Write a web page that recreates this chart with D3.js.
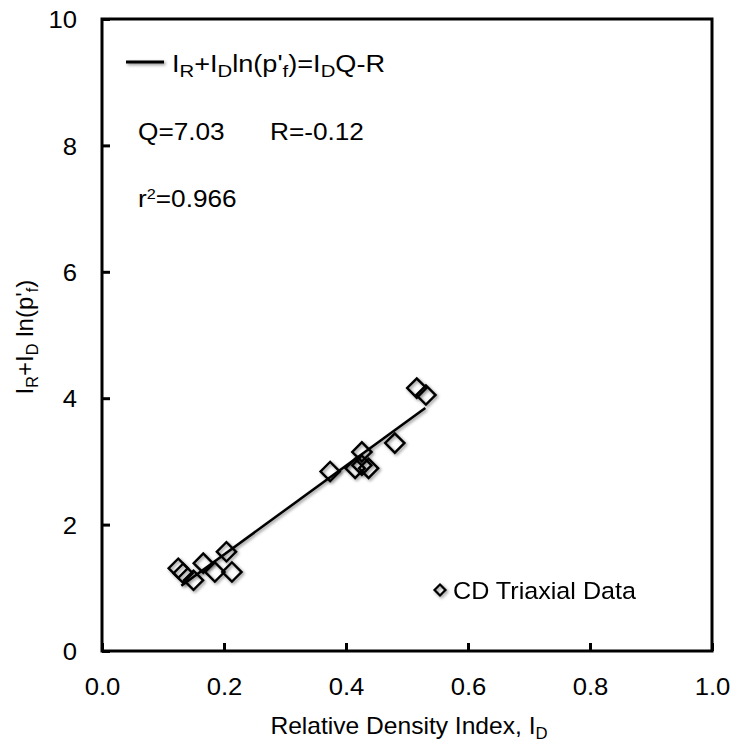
<!DOCTYPE html>
<html>
<head>
<meta charset="utf-8">
<script src="https://cdn.jsdelivr.net/npm/d3@7"></script>
<style>
  body { margin: 0; background: #fff; }
  svg { display: block; font-family: "Liberation Sans", Arial, sans-serif; }
</style>
</head>
<body>
<svg id="chart" width="738" height="748"></svg>
<script>
// CD triaxial points
const relDensity = [0.125, 0.133, 0.150, 0.166, 0.185, 0.204, 0.213, 0.374, 0.415, 0.426, 0.426, 0.437, 0.480, 0.516, 0.531]
const yValues    = [1.31, 1.23, 1.12, 1.39, 1.25, 1.57, 1.25, 2.84, 2.89, 2.94, 3.15, 2.89, 3.29, 4.16, 4.05]

// fitted line  I_R + I_D ln(p'f) = I_D Q - R
const Q = 7.03
const R = -0.12
const fitRange = [0.13, 0.53]

const xTicks = [0, 0.2, 0.4, 0.6, 0.8, 1.0]
const yTicks = [0, 2, 4, 6, 8, 10]

const svg = d3.select("#chart")
const sx = 1.07   // text looks a bit wider than tall in the original

let x = d3.scaleLinear().domain([0, 1]).range([102, 712])
let y = d3.scaleLinear().domain([0, 10]).range([651, 19])

const defs = svg.append("defs")
defs.append("filter").attr("id", "shadow")
    .attr("filterUnits", "userSpaceOnUse")
    .attr("x", 0).attr("y", 0).attr("width", 738).attr("height", 748)
  .append("feDropShadow")
    .attr("dx", 1.5).attr("dy", 1.5).attr("stdDeviation", 1.4)
    .attr("flood-color", "#000").attr("flood-opacity", 0.45)

// frame
svg.append("rect")
  .attr("x", x(0)).attr("y", y(10))
  .attr("width", x(1) - x(0)).attr("height", y(0) - y(10))
  .attr("fill", "none").attr("stroke", "#000").attr("stroke-width", 3)

let xAxis = svg.append("g")
  .attr("transform", `translate(0,${y(0)})`)
  .call(d3.axisBottom(x).tickValues(xTicks).tickFormat(d3.format(".1f"))
    .tickSizeInner(-8).tickSizeOuter(0).tickPadding(27))
let yAxis = svg.append("g")
  .attr("transform", `translate(${x(0)},0)`)
  .call(d3.axisLeft(y).tickValues(yTicks).tickFormat(d3.format("d"))
    .tickSizeInner(-8).tickSizeOuter(0).tickPadding(25))

for (const ax of [xAxis, yAxis]) {
  ax.select(".domain").remove()
  ax.selectAll(".tick line").attr("stroke", "#000").attr("stroke-width", 3)
  ax.selectAll(".tick text").attr("fill", "#000").style("font-size", "24px")
}
xAxis.selectAll(".tick text").attr("transform", `scale(${sx},1)`)
yAxis.selectAll(".tick text").attr("x", -25 / sx).attr("dy", "0.36em").attr("transform", `scale(${sx},1)`)

// fit line
svg.append("line")
  .attr("x1", x(fitRange[0])).attr("y1", y(Q * fitRange[0] - R))
  .attr("x2", x(fitRange[1])).attr("y2", y(Q * fitRange[1] - R))
  .attr("stroke", "#000").attr("stroke-width", 2.5)
  .attr("filter", "url(#shadow)")

// data markers
let diamond = d3.symbol(d3.symbolSquare, 185)
svg.append("g").attr("filter", "url(#shadow)")
.selectAll("path")
.data(relDensity.map((d, i) => [d, yValues[i]]))
.enter().append("path")
  .attr("d", diamond)
  .attr("transform", d => `translate(${x(d[0])},${y(d[1])}) rotate(45)`)
  .attr("fill", "none").attr("stroke", "#000").attr("stroke-width", 2.4)

// helper for text with sub/superscripts
let richText = (px, py, parts, size, rot, subScale = 0.68) => {
  let t = svg.append("text")
    .attr("transform", rot ? `translate(${px},${py}) rotate(-90)` : `translate(${px},${py}) scale(${sx},1)`)
    .style("font-size", size + "px").attr("fill", "#000")
  parts.forEach(p => {
    let s = t.append("tspan").text(p.t)
    if (p.sub) s.style("font-size", (size * subScale) + "px").attr("dy", size * 0.22)
    if (p.sup) s.style("font-size", (size * subScale) + "px").attr("dy", -size * 0.32)
    if (p.back) s.attr("dy", p.back)
  })
  return t
}

// legend: fitted line
svg.append("line")
  .attr("x1", 126).attr("x2", 164).attr("y1", 62).attr("y2", 62)
  .attr("stroke", "#000").attr("stroke-width", 3)
  .attr("filter", "url(#shadow)")
let eq = richText(172, 72, [
  {t: "I"}, {t: "R", sub: true}, {t: "+I", back: -23 * 0.22}, {t: "D", sub: true},
  {t: "ln(p'", back: -23 * 0.22}, {t: "f", sub: true}, {t: ")=I", back: -23 * 0.22},
  {t: "D", sub: true}, {t: "Q-R", back: -23 * 0.22}
], 23, false, 0.75)
let eqw = eq.node().getComputedTextLength()
eq.attr("transform", `translate(172,72) scale(${213 / eqw},1)`)

richText(138, 140, [{t: "Q=7.03"}], 24.5)
richText(270, 140, [{t: "R=-0.12"}], 24.5)
richText(138, 207, [{t: "r"}, {t: "2", sup: true}, {t: "=0.966", back: 24.5 * 0.32}], 24.5, false, 0.62)

// legend: data
svg.append("g").attr("filter", "url(#shadow)")
  .append("path")
  .attr("d", d3.symbol(d3.symbolSquare, 60))
  .attr("transform", "translate(440,590) rotate(45)")
  .attr("fill", "none").attr("stroke", "#000").attr("stroke-width", 2.2)
richText(453, 599, [{t: "CD Triaxial Data"}], 23.5)

// axis titles
let xt = richText(0, 734, [{t: "Relative Density Index, I"}, {t: "D", sub: true}], 23)
let xw = xt.node().getComputedTextLength() * sx
xt.attr("transform", `translate(${409 - xw / 2},734) scale(${sx},1)`)

let yt = richText(33, 0, [
  {t: "I"}, {t: "R", sub: true}, {t: "+I", back: -24 * 0.22}, {t: "D", sub: true},
  {t: " ln(p'", back: -24 * 0.22}, {t: "f", sub: true}, {t: ")", back: -24 * 0.22}
], 24, true)
let yw = yt.node().getComputedTextLength()
yt.attr("transform", `translate(33,${337 + yw / 2}) rotate(-90)`)
</script>
</body>
</html>
